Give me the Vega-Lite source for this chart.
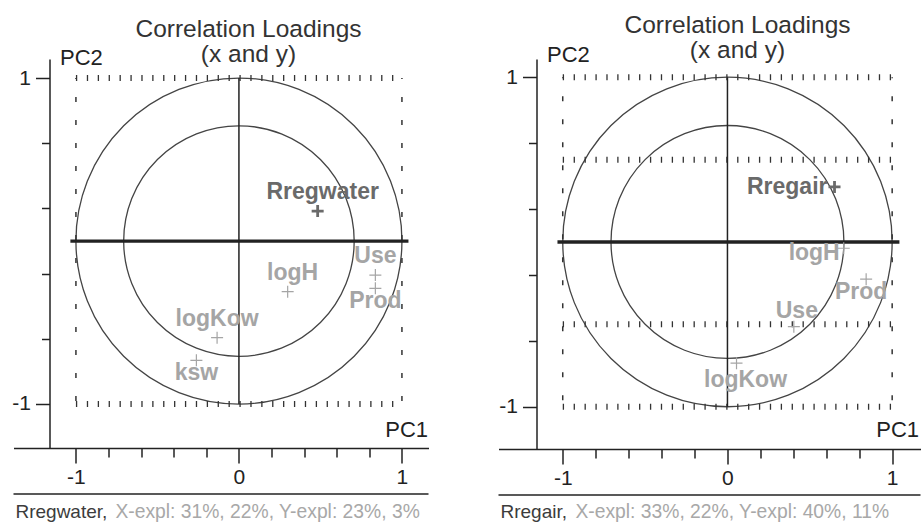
{
  "$schema": "https://vega.github.io/schema/vega-lite/v6.json",
  "padding": {"left": 11.5, "top": 12, "right": 0, "bottom": 0},
  "background": "white",
  "bounds": "flush",
  "spacing": 70,
  "config": {"view": {"stroke": null}, "font": "Liberation Sans"},
  "datasets": {
    "water": [
      {"name": "Rregwater", "block": "Y", "pc1": 0.483, "pc2": 0.184},
      {"name": "logH", "block": "X", "pc1": 0.299, "pc2": -0.311},
      {"name": "Use", "block": "X", "pc1": 0.837, "pc2": -0.209},
      {"name": "Prod", "block": "X", "pc1": 0.837, "pc2": -0.29},
      {"name": "logKow", "block": "X", "pc1": -0.134, "pc2": -0.593},
      {"name": "ksw", "block": "X", "pc1": -0.261, "pc2": -0.732}
    ],
    "air": [
      {"name": "Rregair", "block": "Y", "pc1": 0.65, "pc2": 0.334},
      {"name": "logH", "block": "X", "pc1": 0.706, "pc2": -0.038},
      {"name": "Prod", "block": "X", "pc1": 0.842, "pc2": -0.226},
      {"name": "Use", "block": "X", "pc1": 0.403, "pc2": -0.514},
      {"name": "logKow", "block": "X", "pc1": 0.055, "pc2": -0.736}
    ]
  },
  "hconcat": [
    {
      "width": 415,
      "height": 389,
      "title": {"text": ["Correlation Loadings", "(x and y)"], "anchor": "middle", "frame": "group", "dx": 27.5, "dy": 21, "offset": 0, "fontSize": 24.5, "fontWeight": "normal", "font": "Liberation Sans", "color": "#333", "lineHeight": 25},
      "layer": [
        {
          "data": {"values": [{}]},
          "mark": {"type": "point", "shape": "circle", "size": 106276, "filled": false, "stroke": "#444", "strokeWidth": 1.3, "opacity": 1},
          "encoding": {
            "x": {"datum": 0, "type": "quantitative", "scale": {"domain": [-1.383, 1.163], "nice": false, "zero": false},
              "axis": {"values": [-1,-0.9,-0.8,-0.7,-0.6,-0.5,-0.4,-0.3,-0.2,-0.1,0,0.1,0.2,0.3,0.4,0.5,0.6,0.7,0.8,0.9,1],
                "tickSize": {"condition": {"test": "datum.value == 0 || abs(datum.value) == 1", "value": 15}, "value": 9},
                "labelExpr": "datum.value == 0 || abs(datum.value) == 1 ? replace(format(datum.value, '~g'), '\u2212', '-') : ''",
                "grid": false, "domainColor": "#222", "domainWidth": 1.5, "tickColor": "#222", "tickWidth": 1.5,
                "labelFont": "Liberation Sans", "labelFontSize": 21, "labelColor": "#222", "labelPadding": 3, "labelFlush": false, "labelOverlap": false,
                "title": "PC1", "titleX": 414, "titleY": -12, "titleAlign": "right", "titleBaseline": "alphabetic", "titleFont": "Liberation Sans", "titleFontSize": 22, "titleFontWeight": "normal", "titleColor": "#222"}},
            "y": {"datum": 0, "type": "quantitative", "scale": {"domain": [-1.27, 1.117], "nice": false, "zero": false},
              "axis": {"values": [-1,-0.9,-0.8,-0.7,-0.6,-0.5,-0.4,-0.3,-0.2,-0.1,0,0.1,0.2,0.3,0.4,0.5,0.6,0.7,0.8,0.9,1],
                "offset": -36,
                "tickSize": {"condition": {"test": "datum.value == 0 || abs(datum.value) == 1", "value": 14}, "value": 8},
                "labelExpr": "datum.value == 0 || abs(datum.value) == 1 ? replace(format(datum.value, '~g'), '\u2212', '-') : ''",
                "grid": false, "domainColor": "#222", "domainWidth": 1.5, "tickColor": "#222", "tickWidth": 1.5,
                "labelFont": "Liberation Sans", "labelFontSize": 21, "labelColor": "#222", "labelPadding": 5, "labelFlush": false, "labelOverlap": false,
                "title": "PC2", "titleAngle": 0, "titleX": 10, "titleY": 5, "titleAlign": "left", "titleBaseline": "alphabetic", "titleFont": "Liberation Sans", "titleFontSize": 22, "titleFontWeight": "normal", "titleColor": "#222"}}
          }
        },
        {
          "data": {"values": [{}]},
          "mark": {"type": "point", "shape": "circle", "size": 53138, "filled": false, "stroke": "#444", "strokeWidth": 1.3, "opacity": 1},
          "encoding": {"x": {"datum": 0, "type": "quantitative"}, "y": {"datum": 0, "type": "quantitative"}}
        },
        {
          "data": {"values": [{}]},
          "mark": {"type": "rule", "stroke": "#333", "strokeWidth": 6, "strokeDash": [1.3, 9.6]},
          "encoding": {"x": {"datum": -1, "type": "quantitative"}, "x2": {"datum": 1}, "y": {"datum": 1, "type": "quantitative"}}
        },
        {
          "data": {"values": [{}]},
          "mark": {"type": "rule", "stroke": "#333", "strokeWidth": 6, "strokeDash": [1.3, 9.6]},
          "encoding": {"x": {"datum": -1, "type": "quantitative"}, "x2": {"datum": 1}, "y": {"datum": -1, "type": "quantitative"}}
        },
        {
          "data": {"values": [{}]},
          "mark": {"type": "rule", "stroke": "#333", "strokeWidth": 1.5, "strokeDash": [5, 18], "strokeDashOffset": 4},
          "encoding": {"x": {"datum": -1, "type": "quantitative"}, "y": {"datum": 1, "type": "quantitative"}, "y2": {"datum": -1}}
        },
        {
          "data": {"values": [{}]},
          "mark": {"type": "rule", "stroke": "#333", "strokeWidth": 1.5, "strokeDash": [5, 18], "strokeDashOffset": 4},
          "encoding": {"x": {"datum": 1, "type": "quantitative"}, "y": {"datum": 1, "type": "quantitative"}, "y2": {"datum": -1}}
        },
        {
          "data": {"values": [{}]},
          "mark": {"type": "rule", "stroke": "#222", "strokeWidth": 3.3},
          "encoding": {"x": {"datum": -1.034, "type": "quantitative"}, "x2": {"datum": 1.04}, "y": {"datum": 0, "type": "quantitative"}}
        },
        {
          "data": {"values": [{}]},
          "mark": {"type": "rule", "stroke": "#222", "strokeWidth": 1.5},
          "encoding": {"x": {"datum": 0, "type": "quantitative"}, "y": {"datum": 1, "type": "quantitative"}, "y2": {"datum": -1}}
        },
        {
          "data": {"values": [{}]},
          "mark": {"type": "rule", "stroke": "#222", "strokeWidth": 1.5},
          "encoding": {"x": {"datum": -1.383, "type": "quantitative"}, "x2": {"datum": 1.163}, "y": {"datum": -1.552, "type": "quantitative"}}
        },
        {
          "data": {"values": [{}]},
          "mark": {"type": "text", "text": "Rregwater,", "align": "left", "baseline": "alphabetic", "font": "Liberation Sans", "fontSize": 19, "color": "#3c3c3c"},
          "encoding": {"x": {"datum": -1.371, "type": "quantitative"}, "y": {"datum": -1.7, "type": "quantitative"}}
        },
        {
          "data": {"values": [{}]},
          "mark": {"type": "text", "text": "X-expl: 31%, 22%, Y-expl: 23%, 3%", "align": "left", "baseline": "alphabetic", "font": "Liberation Sans", "fontSize": 19.3, "color": "#a8a8a8"},
          "encoding": {"x": {"datum": -0.758, "type": "quantitative"}, "y": {"datum": -1.7, "type": "quantitative"}}
        },
        {
          "data": {"name": "water"},
          "mark": {"type": "point", "shape": "M-1,0L1,0M0,-1L0,1", "size": 144, "filled": false, "opacity": 1},
          "encoding": {
            "x": {"field": "pc1", "type": "quantitative", "title": "PC1"},
            "y": {"field": "pc2", "type": "quantitative", "title": "PC2"},
            "color": {"field": "block", "type": "nominal", "scale": {"domain": ["X", "Y"], "range": ["#a5a5a5", "#6a6a6a"]}, "legend": null},
            "strokeWidth": {"field": "block", "type": "ordinal", "scale": {"domain": ["X", "Y"], "range": [1.2, 2.8]}, "legend": null}
          }
        },
        {
          "data": {"name": "water"},
          "transform": [{"filter": {"field": "name", "oneOf": ["Rregwater", "logH"]}}],
          "mark": {"type": "text", "align": "center", "baseline": "alphabetic", "dx": 5, "dy": -12, "font": "Liberation Sans", "fontSize": 23, "fontWeight": "bold"},
          "encoding": {
            "x": {"field": "pc1", "type": "quantitative", "title": "PC1"},
            "y": {"field": "pc2", "type": "quantitative", "title": "PC2"},
            "text": {"field": "name"},
            "color": {"field": "block", "type": "nominal", "legend": null}
          }
        },
        {
          "data": {"name": "water"},
          "transform": [{"filter": {"field": "name", "oneOf": ["Use", "logKow"]}}],
          "mark": {"type": "text", "align": "center", "baseline": "alphabetic", "dx": 0, "dy": -12, "font": "Liberation Sans", "fontSize": 23, "fontWeight": "bold"},
          "encoding": {
            "x": {"field": "pc1", "type": "quantitative", "title": "PC1"},
            "y": {"field": "pc2", "type": "quantitative", "title": "PC2"},
            "text": {"field": "name"},
            "color": {"field": "block", "type": "nominal", "legend": null}
          }
        },
        {
          "data": {"name": "water"},
          "transform": [{"filter": {"field": "name", "oneOf": ["Prod", "ksw"]}}],
          "mark": {"type": "text", "align": "center", "baseline": "alphabetic", "dx": 0, "dy": 20, "font": "Liberation Sans", "fontSize": 23, "fontWeight": "bold"},
          "encoding": {
            "x": {"field": "pc1", "type": "quantitative", "title": "PC1"},
            "y": {"field": "pc2", "type": "quantitative", "title": "PC2"},
            "text": {"field": "name"},
            "color": {"field": "block", "type": "nominal", "legend": null}
          }
        }
      ]
    },
    {
      "width": 422,
      "height": 390,
      "title": {"text": ["Correlation Loadings", "(x and y)"], "anchor": "middle", "frame": "group", "dx": 28, "dy": 20, "offset": 0, "fontSize": 24.5, "fontWeight": "normal", "font": "Liberation Sans", "color": "#333", "lineHeight": 25},
      "layer": [
        {
          "data": {"values": [{}]},
          "mark": {"type": "point", "shape": "circle", "size": 108504, "filled": false, "stroke": "#444", "strokeWidth": 1.3, "opacity": 1},
          "encoding": {
            "x": {"datum": 0, "type": "quantitative", "scale": {"domain": [-1.39, 1.172], "nice": false, "zero": false},
              "axis": {"values": [-1,-0.9,-0.8,-0.7,-0.6,-0.5,-0.4,-0.3,-0.2,-0.1,0,0.1,0.2,0.3,0.4,0.5,0.6,0.7,0.8,0.9,1],
                "tickSize": {"condition": {"test": "datum.value == 0 || abs(datum.value) == 1", "value": 15}, "value": 9},
                "labelExpr": "datum.value == 0 || abs(datum.value) == 1 ? replace(format(datum.value, '~g'), '\u2212', '-') : ''",
                "grid": false, "domainColor": "#222", "domainWidth": 1.5, "tickColor": "#222", "tickWidth": 1.5,
                "labelFont": "Liberation Sans", "labelFontSize": 21, "labelColor": "#222", "labelPadding": 3, "labelFlush": false, "labelOverlap": false,
                "title": "PC1", "titleX": 420, "titleY": -13, "titleAlign": "right", "titleBaseline": "alphabetic", "titleFont": "Liberation Sans", "titleFontSize": 22, "titleFontWeight": "normal", "titleColor": "#222"}},
            "y": {"datum": 0, "type": "quantitative", "scale": {"domain": [-1.257, 1.111], "nice": false, "zero": false},
              "axis": {"values": [-1,-0.9,-0.8,-0.7,-0.6,-0.5,-0.4,-0.3,-0.2,-0.1,0,0.1,0.2,0.3,0.4,0.5,0.6,0.7,0.8,0.9,1],
                "offset": -38,
                "tickSize": {"condition": {"test": "indexof([-1, -0.5, 0, 0.5, 1], datum.value) >= 0", "value": 14}, "value": 8},
                "labelExpr": "indexof([-1, -0.5, 0, 0.5, 1], datum.value) >= 0 ? replace(replace(format(datum.value, '~g'), '.', ','), '\u2212', '-') : ''",
                "grid": false, "domainColor": "#222", "domainWidth": 1.5, "tickColor": "#222", "tickWidth": 1.5,
                "labelFont": "Liberation Sans", "labelFontSize": 21, "labelColor": "#222", "labelPadding": 5, "labelFlush": false, "labelOverlap": false,
                "title": "PC2", "titleAngle": 0, "titleX": 10, "titleY": 2, "titleAlign": "left", "titleBaseline": "alphabetic", "titleFont": "Liberation Sans", "titleFontSize": 22, "titleFontWeight": "normal", "titleColor": "#222"}}
          }
        },
        {
          "data": {"values": [{}]},
          "mark": {"type": "point", "shape": "circle", "size": 54252, "filled": false, "stroke": "#444", "strokeWidth": 1.3, "opacity": 1},
          "encoding": {"x": {"datum": 0, "type": "quantitative"}, "y": {"datum": 0, "type": "quantitative"}}
        },
        {
          "data": {"values": [{}]},
          "mark": {"type": "rule", "stroke": "#333", "strokeWidth": 6, "strokeDash": [1.3, 9.6]},
          "encoding": {"x": {"datum": -1, "type": "quantitative"}, "x2": {"datum": 1}, "y": {"datum": 1, "type": "quantitative"}}
        },
        {
          "data": {"values": [{}]},
          "mark": {"type": "rule", "stroke": "#333", "strokeWidth": 6, "strokeDash": [1.3, 9.6]},
          "encoding": {"x": {"datum": -1, "type": "quantitative"}, "x2": {"datum": 1}, "y": {"datum": 0.5, "type": "quantitative"}}
        },
        {
          "data": {"values": [{}]},
          "mark": {"type": "rule", "stroke": "#333", "strokeWidth": 6, "strokeDash": [1.3, 9.6]},
          "encoding": {"x": {"datum": -1, "type": "quantitative"}, "x2": {"datum": 1}, "y": {"datum": -0.5, "type": "quantitative"}}
        },
        {
          "data": {"values": [{}]},
          "mark": {"type": "rule", "stroke": "#333", "strokeWidth": 6, "strokeDash": [1.3, 9.6]},
          "encoding": {"x": {"datum": -1, "type": "quantitative"}, "x2": {"datum": 1}, "y": {"datum": -1, "type": "quantitative"}}
        },
        {
          "data": {"values": [{}]},
          "mark": {"type": "rule", "stroke": "#333", "strokeWidth": 1.5, "strokeDash": [5, 18], "strokeDashOffset": 4},
          "encoding": {"x": {"datum": -1, "type": "quantitative"}, "y": {"datum": 1, "type": "quantitative"}, "y2": {"datum": -1}}
        },
        {
          "data": {"values": [{}]},
          "mark": {"type": "rule", "stroke": "#333", "strokeWidth": 1.5, "strokeDash": [5, 18], "strokeDashOffset": 4},
          "encoding": {"x": {"datum": 1, "type": "quantitative"}, "y": {"datum": 1, "type": "quantitative"}, "y2": {"datum": -1}}
        },
        {
          "data": {"values": [{}]},
          "mark": {"type": "rule", "stroke": "#222", "strokeWidth": 3.3},
          "encoding": {"x": {"datum": -1.032, "type": "quantitative"}, "x2": {"datum": 1.044}, "y": {"datum": 0, "type": "quantitative"}}
        },
        {
          "data": {"values": [{}]},
          "mark": {"type": "rule", "stroke": "#222", "strokeWidth": 1.5},
          "encoding": {"x": {"datum": 0, "type": "quantitative"}, "y": {"datum": 1, "type": "quantitative"}, "y2": {"datum": -1}}
        },
        {
          "data": {"values": [{}]},
          "mark": {"type": "rule", "stroke": "#222", "strokeWidth": 1.5},
          "encoding": {"x": {"datum": -1.39, "type": "quantitative"}, "x2": {"datum": 1.172}, "y": {"datum": -1.536, "type": "quantitative"}}
        },
        {
          "data": {"values": [{}]},
          "mark": {"type": "text", "text": "Rregair,", "align": "left", "baseline": "alphabetic", "font": "Liberation Sans", "fontSize": 19, "color": "#3c3c3c"},
          "encoding": {"x": {"datum": -1.378, "type": "quantitative"}, "y": {"datum": -1.677, "type": "quantitative"}}
        },
        {
          "data": {"values": [{}]},
          "mark": {"type": "text", "text": "X-expl: 33%, 22%, Y-expl: 40%, 11%", "align": "left", "baseline": "alphabetic", "font": "Liberation Sans", "fontSize": 19.3, "color": "#a8a8a8"},
          "encoding": {"x": {"datum": -0.923, "type": "quantitative"}, "y": {"datum": -1.677, "type": "quantitative"}}
        },
        {
          "data": {"name": "air"},
          "mark": {"type": "point", "shape": "M-1,0L1,0M0,-1L0,1", "size": 144, "filled": false, "opacity": 1},
          "encoding": {
            "x": {"field": "pc1", "type": "quantitative", "title": "PC1"},
            "y": {"field": "pc2", "type": "quantitative", "title": "PC2"},
            "color": {"field": "block", "type": "nominal", "scale": {"domain": ["X", "Y"], "range": ["#a5a5a5", "#6a6a6a"]}, "legend": null},
            "strokeWidth": {"field": "block", "type": "ordinal", "scale": {"domain": ["X", "Y"], "range": [1.2, 2.8]}, "legend": null}
          }
        },
        {
          "data": {"name": "air"},
          "transform": [{"filter": {"field": "name", "equal": "Rregair"}}],
          "mark": {"type": "text", "align": "right", "baseline": "alphabetic", "dx": -7, "dy": 7, "font": "Liberation Sans", "fontSize": 23, "fontWeight": "bold"},
          "encoding": {
            "x": {"field": "pc1", "type": "quantitative", "title": "PC1"},
            "y": {"field": "pc2", "type": "quantitative", "title": "PC2"},
            "text": {"field": "name"},
            "color": {"field": "block", "type": "nominal", "legend": null}
          }
        },
        {
          "data": {"name": "air"},
          "transform": [{"filter": {"field": "name", "equal": "logH"}}],
          "mark": {"type": "text", "align": "right", "baseline": "alphabetic", "dx": -4, "dy": 12, "font": "Liberation Sans", "fontSize": 23, "fontWeight": "bold"},
          "encoding": {
            "x": {"field": "pc1", "type": "quantitative", "title": "PC1"},
            "y": {"field": "pc2", "type": "quantitative", "title": "PC2"},
            "text": {"field": "name"},
            "color": {"field": "block", "type": "nominal", "legend": null}
          }
        },
        {
          "data": {"name": "air"},
          "transform": [{"filter": {"field": "name", "equal": "Use"}}],
          "mark": {"type": "text", "align": "center", "baseline": "alphabetic", "dx": 3, "dy": -9, "font": "Liberation Sans", "fontSize": 23, "fontWeight": "bold"},
          "encoding": {
            "x": {"field": "pc1", "type": "quantitative", "title": "PC1"},
            "y": {"field": "pc2", "type": "quantitative", "title": "PC2"},
            "text": {"field": "name"},
            "color": {"field": "block", "type": "nominal", "legend": null}
          }
        },
        {
          "data": {"name": "air"},
          "transform": [{"filter": {"field": "name", "equal": "Prod"}}],
          "mark": {"type": "text", "align": "center", "baseline": "alphabetic", "dx": -5, "dy": 20, "font": "Liberation Sans", "fontSize": 23, "fontWeight": "bold"},
          "encoding": {
            "x": {"field": "pc1", "type": "quantitative", "title": "PC1"},
            "y": {"field": "pc2", "type": "quantitative", "title": "PC2"},
            "text": {"field": "name"},
            "color": {"field": "block", "type": "nominal", "legend": null}
          }
        },
        {
          "data": {"name": "air"},
          "transform": [{"filter": {"field": "name", "equal": "logKow"}}],
          "mark": {"type": "text", "align": "center", "baseline": "alphabetic", "dx": 9, "dy": 24, "font": "Liberation Sans", "fontSize": 23, "fontWeight": "bold"},
          "encoding": {
            "x": {"field": "pc1", "type": "quantitative", "title": "PC1"},
            "y": {"field": "pc2", "type": "quantitative", "title": "PC2"},
            "text": {"field": "name"},
            "color": {"field": "block", "type": "nominal", "legend": null}
          }
        }
      ]
    }
  ]
}
